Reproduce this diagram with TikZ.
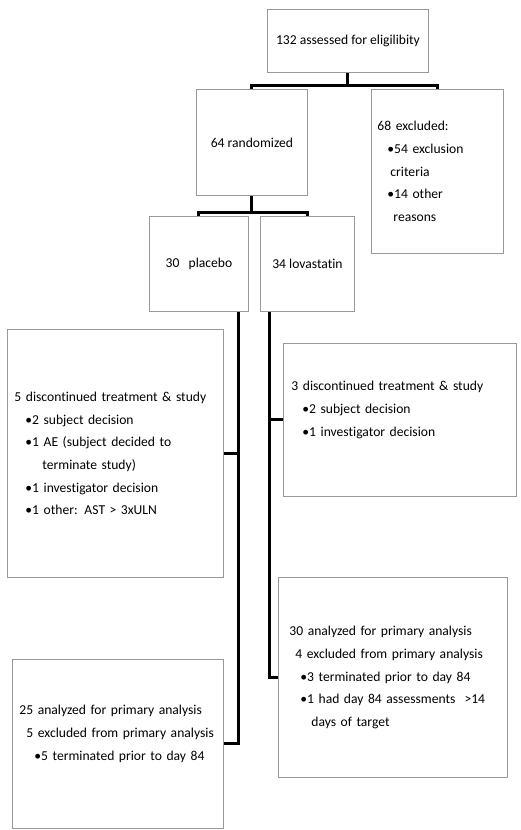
\documentclass[tikz,border=0pt]{standalone}
\usepackage{fontspec}
\setmainfont{Carlito}[Ligatures=NoCommon]
\usepackage{tikz}
\usetikzlibrary{positioning}
\newcommand{\boxfont}{\fontsize{13.6}{22.7}\selectfont\hyphenpenalty=10000\relax}
\tikzstyle{box} = [rectangle, anchor=north west, draw=black!40, line width=0.9pt, inner xsep=7pt, inner ysep=0pt, align=left, font=\boxfont]
\tikzstyle{link} = [line width=3pt, black]
\newcommand{\bul}{\textbullet}

\begin{document}
\begin{tikzpicture}[x=1pt, y=-1pt]
        \useasboundingbox (0,0) rectangle (520,830);

        \node (assess) [box, minimum width=161pt, minimum height=63pt, align=center] at (267,9) {132 assessed for eligilibity};
        \node (random) [box, minimum width=111pt, minimum height=106pt, align=center] at (196,89) {64 randomized};
        \node (excluded) [box, text width=118pt, minimum height=164pt] at (371,89) {\hspace*{-1pt}68 excluded:\\ \hspace*{9pt}\bul 54 exclusion\\ \hspace*{12pt}criteria\\ \hspace*{9pt}\bul 14 other\\ \hspace*{15pt}reasons};
        \node (placebo) [box, minimum width=99pt, minimum height=95pt, align=center] at (149,216) {30 \ \ placebo};
        \node (lova) [box, minimum width=94pt, minimum height=95pt, align=center] at (260,216) {34 lovastatin};

        \node (discP) [box, text width=202pt, minimum height=248pt] at (7,329) {5 discontinued treatment \& study\\ \hspace*{11pt}\bul 2 subject decision\\ \hspace*{11pt}\bul 1 AE (subject decided to\\ \hspace*{28pt}terminate study)\\ \hspace*{11pt}\bul 1 investigator decision\\ \hspace*{11pt}\bul 1 other: AST > 3xULN};
        \node (discL) [box, text width=219pt, minimum height=153pt] at (283,343) {\hspace*{1pt}3 discontinued treatment \& study\\ \hspace*{12pt}\bul 2 subject decision\\ \hspace*{12pt}\bul 1 investigator decision\\ \mbox{}};
        \node (anaP) [box, text width=197pt, minimum height=169pt] at (12,659) {25 analyzed for primary analysis\\ \hspace*{7pt}5 excluded from primary analysis\\ \hspace*{15pt}\bul 5 terminated prior to day 84\\ \mbox{}};
        \node (anaL) [box, text width=215pt, minimum height=200pt] at (278,577) {\hspace*{4pt}30 analyzed for primary analysis\\ \hspace*{10pt}4 excluded from primary analysis\\ \hspace*{15pt}\bul 3 terminated prior to day 84\\ \hspace*{15pt}\bul 1 had day 84 assessments \ >14\\ \hspace*{26pt}days of target};

        % splits from the top
        \draw [link] (assess.south) -- ++(0,13) -| (random.north);
        \draw [link] (assess.south) -- ++(0,13) -| (excluded.north);
        \draw [link] (random.south) -- ++(0,17) -| (placebo.north);
        \draw [link] (random.south) -- ++(0,17) -| (lova.north);

        % trunks of the two arms
        \coordinate (ptrunk) at ([xshift=-10pt]placebo.south east);
        \coordinate (ltrunk) at ([xshift=9pt]lova.south west);
        \draw [link] (ptrunk) |- (anaP.east);
        \draw [link] (discP.east) -- (discP.east -| ptrunk);
        \draw [link] (ltrunk) |- (anaL.west);
        \draw [link] (discL.west) -- (discL.west -| ltrunk);
    \end{tikzpicture}
\end{document}
